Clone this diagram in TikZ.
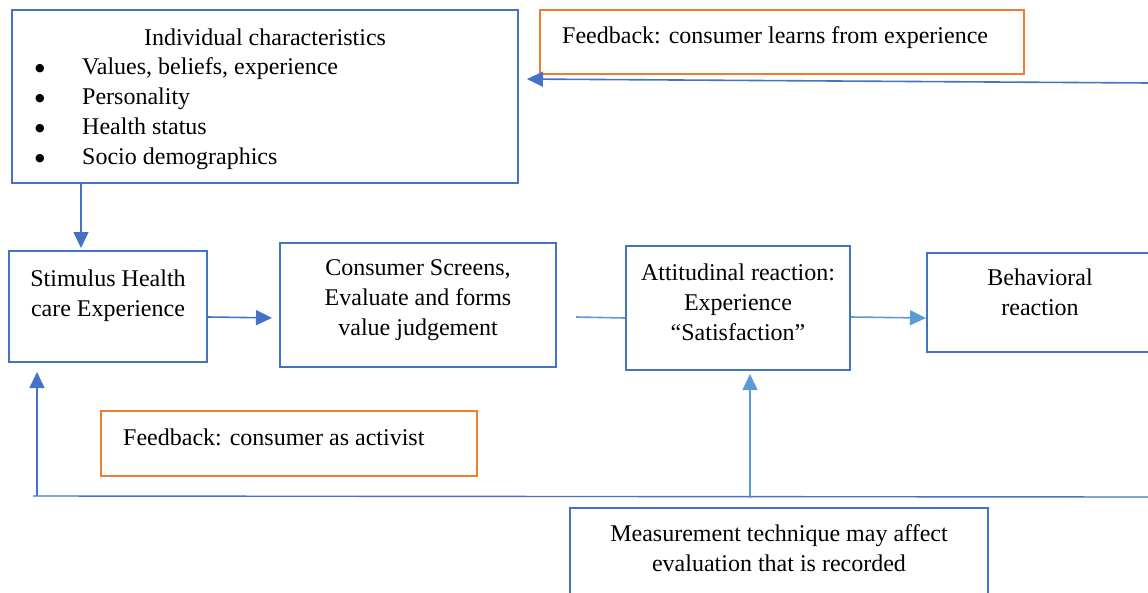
\documentclass[tikz,border=0pt]{standalone}
\usepackage{fontspec}
\setmainfont{Liberation Serif}
\newfontfamily\symfont{DejaVu Sans}
\usetikzlibrary{positioning, arrows.meta}
\definecolor{boxblue}{HTML}{4472C4}
\definecolor{lightblue}{HTML}{5B9BD5}
\definecolor{fborange}{HTML}{ED7D31}
\tikzset{
bluebox/.style={draw=boxblue, line width=2pt, inner sep=0pt},
orangebox/.style={draw=fborange, line width=2pt, inner sep=0pt},
txt/.style={inner sep=0pt, align=center, font=\fontsize{24}{30}\selectfont},
arr/.style={draw=boxblue, line width=1.6pt, -{Triangle[length=16pt,width=15pt]}},
arrlight/.style={draw=lightblue, line width=1.6pt, -{Triangle[length=16pt,width=15pt]}},
}
\newcommand{\bigdot}{\makebox[49pt][l]{\hspace*{2pt}\raisebox{3pt}{\symfont\fontsize{11}{11}\selectfont ●}}}

\begin{document}
\begin{tikzpicture}[x=1pt, y=-1pt]
    \useasboundingbox (0,0) rectangle (1148,592);

    %boxes
    \node[bluebox, minimum width=506pt, minimum height=173pt] (indiv) at (265,96.5) { };
    \node[orangebox, minimum width=484pt, minimum height=64pt] (fbtop) at (782,42) { };
    \node[bluebox, minimum width=198pt, minimum height=111pt] (stim) at (108,306.5) { };
    \node[bluebox, minimum width=276pt, minimum height=124pt] (cons) at (418,305) { };
    \node[bluebox, minimum width=224pt, minimum height=124pt] (att) at (738,308) { };
    \node[bluebox, minimum width=240pt, minimum height=99pt] (beh) at (1047,302.5) { };
    \node[orangebox, minimum width=376pt, minimum height=65pt] (fbbot) at (289,443.5) { };
    \node[bluebox, minimum width=418pt, minimum height=120pt] (meas) at (779,568) { };

    %texts
    \node[txt] (indiv-title) at (265,37) {Individual characteristics};
    \node[txt, align=left, anchor=west] (indiv-list) at (33,114)
        {\bigdot Values, beliefs, experience\\
         \bigdot Personality\\
         \bigdot Health status\\
         \bigdot Socio demographics};
    \node[txt, anchor=west] (fbtop-text) at (562,38) {Feedback: consumer learns from experience};
    \node[txt] (stim-text) at (108,296) {Stimulus Health\\care Experience};
    \node[txt] (cons-text) at (418,300) {Consumer Screens,\\Evaluate and forms\\value judgement};
    \node[txt] (att-text) at (738,302) {Attitudinal reaction:\\Experience\\``Satisfaction''};
    \node[txt] (beh-text) at (1040,292.5) {Behavioral\\reaction};
    \node[txt, anchor=west] (fbbot-text) at (123,437) {Feedback: consumer as activist};
    \node[txt] (meas-text) at (779,548.5) {Measurement technique may affect\\evaluation that is recorded};

    %free ends
    \coordinate (drop) at (81,183);
    \coordinate (fbR) at (1150,83);
    \coordinate (loopR) at (1150,497);
    \coordinate (loopL) at (33,496);
    \coordinate (loopUp) at (37,496);
    \coordinate (measUp) at (750,498);
    \coordinate (consOut) at (576,317);

    %main line
    \draw[arr, shorten >=2pt] (drop) -- (drop |- stim.north);
    \draw[arr, shorten >=7pt] ([yshift=-10.5pt]stim.east) -- ([yshift=-13pt]cons.west);
    \draw[draw=lightblue, line width=1.6pt] (consOut) -- ([yshift=-10pt]att.west);
    \draw[arrlight] ([yshift=-9pt]att.east) -- ([yshift=-15.5pt]beh.west);

    %feedback lines
    \draw[arr, shorten >=8pt] (fbR) -- ([yshift=17.5pt]indiv.east);
    \draw[draw=boxblue, line width=1.4pt] (loopR) -- (loopL);
    \draw[arr, shorten >=9pt] (loopUp) -- (loopUp |- stim.south);
    \draw[arrlight, shorten >=3pt] (measUp) -- (measUp |- att.south);
\end{tikzpicture}
\end{document}
